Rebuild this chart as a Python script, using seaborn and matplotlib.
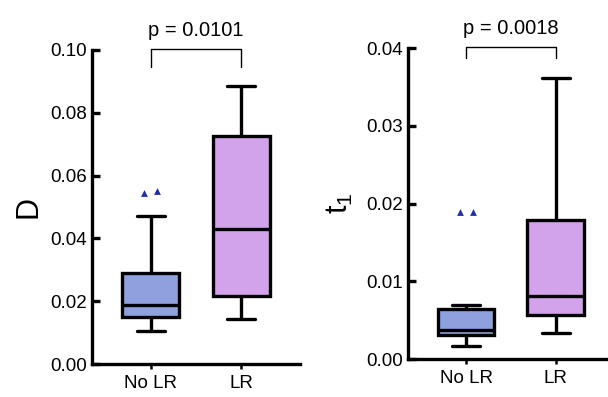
import numpy as np
import pandas as pd
import matplotlib
matplotlib.use("Agg")
import matplotlib.pyplot as plt
import seaborn as sns

# groups
groups = ["No LR", "LR"]

# D values (box stats reproduced by these points)
d_no_lr = [0.0105, 0.012, 0.0135, 0.015, 0.016, 0.0175, 0.0188,
           0.021, 0.025, 0.029, 0.047, 0.0545, 0.055]
d_lr = [0.0143, 0.018, 0.0216, 0.035, 0.043, 0.055, 0.0726, 0.080, 0.0886]

# t1 values
t1_no_lr = [0.0017, 0.0024, 0.0028, 0.0031, 0.0033, 0.0035, 0.0037,
            0.0045, 0.0055, 0.0064, 0.0069, 0.0189, 0.0189]
t1_lr = [0.0034, 0.0045, 0.0056, 0.0070, 0.0081, 0.0120, 0.0179, 0.0250, 0.0362]

p_values = ["p = 0.0101", "p = 0.0018"]
y_labels = ["D", r"$\mathregular{t_1}$"]
y_ticks = [[0.00, 0.02, 0.04, 0.06, 0.08, 0.10], [0.00, 0.01, 0.02, 0.03, 0.04]]

box_colors = {"No LR": "#8fa0de", "LR": "#d2a2eb"}
outlier_color = "#1f2fa8"
outlier_gap = 0.145  # horizontal spacing of side-by-side outliers (category units)


def make_frame(a, b):
    df = pd.DataFrame({
        "group": ["No LR"] * len(a) + ["LR"] * len(b),
        "value": a + b,
    })
    # Tukey fences, same rule the boxplot uses for its whiskers
    q = df.groupby("group")["value"].quantile([0.25, 0.75]).unstack()
    iqr = q[0.75] - q[0.25]
    lo = df["group"].map(q[0.25] - 1.5 * iqr)
    hi = df["group"].map(q[0.75] + 1.5 * iqr)
    df["outlier"] = (df["value"] < lo) | (df["value"] > hi)
    return df


frames = [make_frame(d_no_lr, d_lr), make_frame(t1_no_lr, t1_lr)]

sns.set_style("ticks")
plt.rcParams["font.family"] = ["Liberation Sans", "DejaVu Sans"]
plt.rcParams["mathtext.fontset"] = "custom"
plt.rcParams["mathtext.rm"] = "Liberation Sans"
plt.rcParams["mathtext.default"] = "regular"
for k in ["text.color", "axes.labelcolor", "xtick.color", "ytick.color", "axes.edgecolor"]:
    plt.rcParams[k] = "black"

fig = plt.figure(figsize=(6.08, 3.97), dpi=100)
ax1 = fig.add_axes([0.1513, 0.0831, 0.342, 0.791])
ax2 = fig.add_axes([0.671, 0.0957, 0.3387, 0.783])

for ax, df, lab, ticks, ptxt, lx in zip([ax1, ax2], frames, y_labels, y_ticks,
                                        p_values, [-0.235, -0.255]):
    sns.boxplot(data=df, x="group", y="value", hue="group", order=groups,
                hue_order=groups, palette=box_colors, saturation=1,
                width=0.63, linecolor="black", linewidth=2.4,
                showfliers=False, legend=False, ax=ax)

    # outliers side by side, as Prism draws them
    out = df[df["outlier"]].copy()
    slot = out.groupby("group").cumcount()
    n_out = out["group"].map(out["group"].value_counts())
    out["xpos"] = (out["group"].map({g: i for i, g in enumerate(groups)})
                   + (slot - (n_out - 1) / 2) * outlier_gap)
    sns.scatterplot(data=out, x="xpos", y="value", color=outlier_color,
                    marker="^", s=24, linewidth=0, legend=False, ax=ax)

    top = ticks[-1]
    ax.set_ylim(0, top)
    ax.set_xlim(-0.65, 1.65)
    ax.set_xticks(range(len(groups)))
    ax.set_xticklabels(groups)
    ax.set_yticks(ticks)
    ax.yaxis.set_major_formatter(matplotlib.ticker.FormatStrFormatter("%.2f"))
    ax.set_xlabel("")
    ax.set_ylabel(lab, fontsize=22)
    ax.yaxis.set_label_coords(lx, 0.5)

    for s in ["top", "right"]:
        ax.spines[s].set_visible(False)
    for s in ["left", "bottom"]:
        ax.spines[s].set_linewidth(2.4)
    ax.tick_params(axis="y", direction="in", length=6, width=2.4,
                   labelsize=13.5, pad=3.5)
    ax.tick_params(axis="x", direction="out", length=3.5, width=1.8,
                   labelsize=13.5, pad=4.5)

    # significance bracket
    y_br = top * 1.003
    y_leg = top * 0.946 if top > 0.05 else top * 0.967
    ax.plot([0, 0, 1, 1], [y_leg, y_br, y_br, y_leg], color="black",
            lw=1.0, clip_on=False)
    ax.text(0.5, top * 1.045, ptxt, ha="center", va="baseline",
            fontsize=14.5, clip_on=False)

fig.savefig("out.png", dpi=100)
